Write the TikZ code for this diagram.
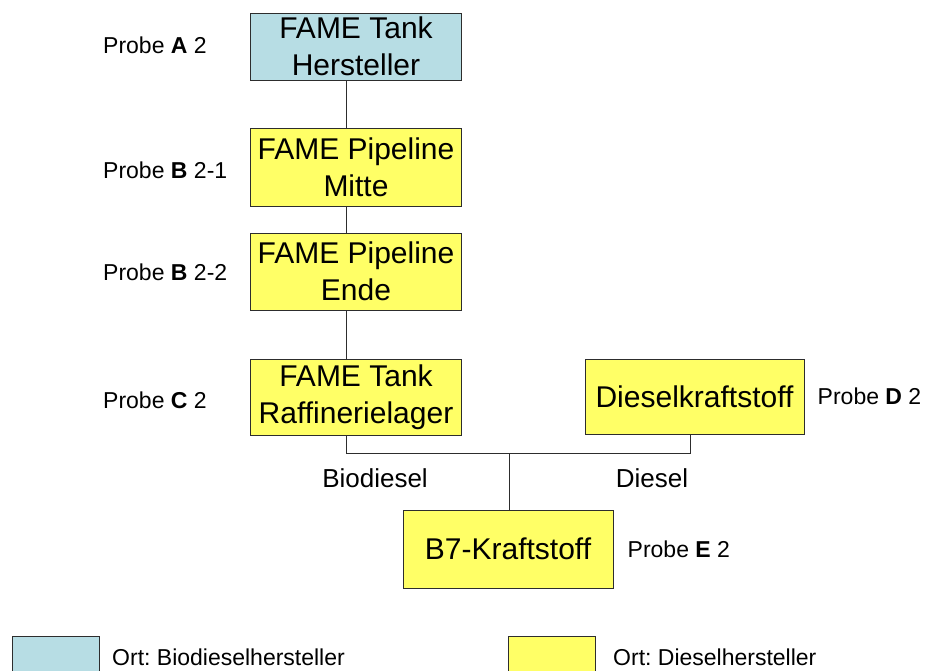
\documentclass[tikz,border=0pt]{standalone}
\usepackage{fontspec}
\setmainfont{Liberation Sans}
\usepackage{tikz}
\usetikzlibrary{positioning}
\frenchspacing

\definecolor{biofill}{RGB}{183,221,228}
\definecolor{dieselfill}{RGB}{255,255,102}
\definecolor{rand}{RGB}{45,45,45}

\tikzset{
  box/.style={draw=rand,line width=1pt,inner sep=0pt,align=center,
    minimum width=211pt,font=\fontsize{30}{37}\selectfont},
  probe/.style={anchor=west,inner sep=0pt,font=\fontsize{23}{27}\selectfont},
  flow/.style={font=\fontsize{26}{30}\selectfont,inner sep=0pt},
  pipe/.style={draw=rand,line width=1pt}
}

\begin{document}
\begin{tikzpicture}[x=1pt,y=-1pt]
\useasboundingbox (0,0) rectangle (925,670);

    \node (hersteller) [box,fill=biofill,minimum height=67pt] at (356,46.5) {FAME Tank\\Hersteller};
    \node (mitte) [box,fill=dieselfill,minimum height=78pt] at (356,167) {FAME Pipeline\\Mitte};
    \node (ende) [box,fill=dieselfill,minimum height=77pt] at (356,271.5) {FAME Pipeline\\Ende};
    \node (raffinerie) [box,fill=dieselfill,minimum height=76pt] at (356,397) {FAME Tank\\Raffinerielager};
    \node (dieselkr) [box,fill=dieselfill,minimum width=219pt,minimum height=75pt] at (694.5,396.5) {Dieselkraftstoff};
    \node (bsieben) [box,fill=dieselfill,minimum width=210pt,minimum height=78pt] at (508,549) {B7-Kraftstoff};

    \node (probeA) [probe] at (103,45) {Probe \textbf{A} 2};
    \node (probeBa) [probe] at (103,170) {Probe \textbf{B} 2-1};
    \node (probeBb) [probe] at (103,272) {Probe \textbf{B} 2-2};
    \node (probeC) [probe] at (103,400) {Probe \textbf{C} 2};
    \node (probeD) [probe,right=13pt of dieselkr] {Probe \textbf{D} 2};
    \node (probeE) [probe,right=14pt of bsieben] {Probe \textbf{E} 2};

    \coordinate (trunk) at (346,0);
    \coordinate (dtrunk) at (690,0);
    \coordinate (join) at (509,453);

    \draw[pipe] (hersteller.south -| trunk) -- (mitte.north -| trunk);
    \draw[pipe] (mitte.south -| trunk) -- (ende.north -| trunk);
    \draw[pipe] (ende.south -| trunk) -- (raffinerie.north -| trunk);
    \draw[pipe] (raffinerie.south -| trunk) -- (join -| trunk) -- (join -| dtrunk) -- (dieselkr.south -| dtrunk);
    \draw[pipe] (join) -- (bsieben.north -| join);

    \node (biodiesel) [flow] at (375,478) {Biodiesel};
    \node (diesel) [flow] at (652,478) {Diesel};

    % Legende
    \draw[rand,fill=biofill,line width=1pt] (12,636) rectangle (99,680);
    \node (ortbio) [probe] at (112,657) {Ort: Biodieselhersteller};
    \draw[rand,fill=dieselfill,line width=1pt] (508,636) rectangle (595,680);
    \node (ortdiesel) [probe] at (613,657) {Ort: Dieselhersteller};

\end{tikzpicture}
\end{document}
